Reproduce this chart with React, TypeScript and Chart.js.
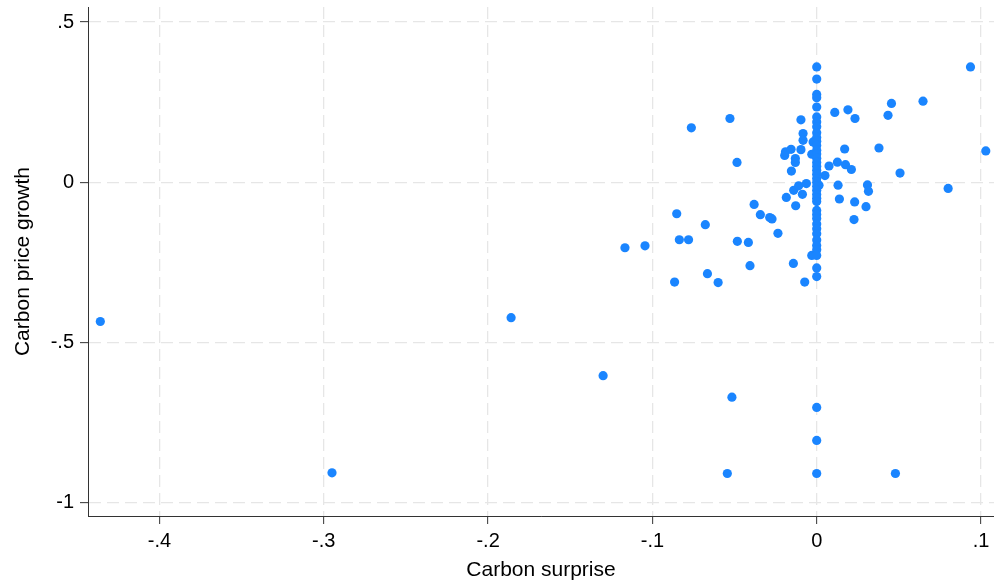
import React, { useEffect, useRef } from "react";
import { Chart, registerables } from "chart.js";

Chart.register(...registerables);

// Off-axis observations (carbon surprise, carbon price growth)
const surpriseX: number[] = [
  -0.436, -0.295, -0.186, -0.13, -0.1167, -0.1045, -0.0852, -0.0865, -0.0836, -0.078,
  -0.0763, -0.0678, -0.0665, -0.06, -0.0544, -0.0528, -0.0516, -0.0485, -0.0483, -0.0416,
  -0.0406, -0.0381, -0.0343, -0.0286, -0.0272, -0.0236, -0.0195, -0.019, -0.0185, -0.0156,
  -0.0154, -0.0142, -0.014, -0.013, -0.013, -0.0128, -0.011, -0.0096, -0.0096, -0.0087,
  -0.0083, -0.0083, -0.0073, -0.0063, -0.003, -0.003, -0.0022, 0.0014, 0.005, 0.0075,
  0.011, 0.0126, 0.013, 0.0138, 0.017, 0.0175, 0.019, 0.0211, 0.0227, 0.0231,
  0.0233, 0.03, 0.0309, 0.0315, 0.0379, 0.0434, 0.0455, 0.0479, 0.0507, 0.0647,
  0.08, 0.0936, 0.1029,
];
const growthY: number[] = [
  -0.434, -0.906, -0.422, -0.603, -0.204, -0.198, -0.098, -0.311, -0.179, -0.179,
  0.17, -0.132, -0.285, -0.3125, -0.908, 0.199, -0.67, 0.062, -0.184, -0.1875,
  -0.26, -0.069, -0.101, -0.11, -0.114, -0.159, 0.084, 0.095, -0.047, 0.103,
  0.035, -0.253, -0.025, 0.074, 0.062, -0.073, -0.011, 0.195, 0.102, -0.0375,
  0.152, 0.131, -0.311, -0.004, 0.0875, -0.228, 0.126, -0.009, 0.021, 0.051,
  0.218, 0.063, -0.009, -0.052, 0.104, 0.055, 0.226, 0.04, -0.116, -0.061,
  0.199, -0.076, -0.008, -0.028, 0.107, 0.209, 0.246, -0.908, 0.029, 0.253,
  -0.019, 0.36, 0.098,
];
// Observations with zero carbon surprise
const growthAtZeroSurprise: number[] = [
  0.36, 0.322, 0.274, 0.264, 0.235, 0.204, 0.188, 0.173, 0.155, 0.14,
  0.128, 0.115, 0.1, 0.088, 0.075, 0.062, 0.05, 0.038, 0.025, 0.012,
  0.0, -0.012, -0.025, -0.038, -0.05, -0.06, -0.0875, -0.1, -0.113, -0.13,
  -0.145, -0.16, -0.18, -0.197, -0.21, -0.228, -0.267, -0.294, -0.702, -0.805,
  -0.908,
];

const xTicks: number[] = [-0.4, -0.3, -0.2, -0.1, 0, 0.1];
const yTicks: number[] = [-1, -0.5, 0, 0.5];
const xRange: number[] = [-0.4435, 0.1079];
const yRange: number[] = [-1.0406, 0.5468];

const xTitle = "Carbon surprise";
const yTitle = "Carbon price growth";

const fmt = (v: number) => (v === 0 ? "0" : String(v).replace("0.", "."));

export default function App() {
  const ref = useRef<HTMLCanvasElement>(null);

  useEffect(() => {
    document.body.style.margin = "0";
    const points = [
      ...surpriseX.map((x, i) => ({ x, y: growthY[i] })),
      ...growthAtZeroSurprise.map((y) => ({ x: 0, y })),
    ];
    const family = "'Liberation Sans', Arial, Helvetica, sans-serif";
    const tickFont = { family, size: 20 };
    const titleFont = { family, size: 21 };
    const gridCommon = {
      color: "#e6e6e6",
      lineWidth: 1.3,
      tickColor: "#333",
      tickLength: 8,
      tickWidth: 1,
      tickBorderDash: [],
      drawTicks: true,
    };
    const chart = new Chart(ref.current!, {
      type: "scatter",
      data: {
        datasets: [
          {
            data: points,
            backgroundColor: "rgb(26,133,255)",
            borderWidth: 0,
            pointRadius: 4.6,
            pointHoverRadius: 4.6,
          },
        ],
      },
      options: {
        animation: false,
        responsive: true,
        maintainAspectRatio: false,
        layout: { autoPadding: false, padding: { top: 7, right: 0, left: 0, bottom: 0 } },
        plugins: { legend: { display: false }, tooltip: { enabled: false } },
        scales: {
          x: {
            type: "linear",
            min: xRange[0],
            max: xRange[1],
            afterBuildTicks: (s: any) => {
              s.ticks = xTicks.map((v) => ({ value: v }));
            },
            afterFit: (s: any) => {
              s.height = 67;
              s.paddingLeft = 0;
              s.paddingRight = 0;
            },
            grid: gridCommon,
            border: { display: true, color: "#333", width: 1, dash: [12, 6] },
            ticks: {
              font: tickFont,
              color: "#000",
              padding: 5,
              maxRotation: 0,
              autoSkip: false,
              callback: (v: any) => fmt(Number(v)),
            },
            title: {
              display: true,
              text: xTitle,
              font: titleFont,
              color: "#000",
              padding: { top: 0, bottom: 0 },
            },
          },
          y: {
            type: "linear",
            min: yRange[0],
            max: yRange[1],
            afterBuildTicks: (s: any) => {
              s.ticks = yTicks.map((v) => ({ value: v }));
            },
            afterFit: (s: any) => {
              s.width = 88;
              s.paddingTop = 0;
              s.paddingBottom = 0;
            },
            grid: gridCommon,
            border: { display: true, color: "#333", width: 1, dash: [12, 6] },
            ticks: {
              font: tickFont,
              color: "#000",
              padding: 6,
              autoSkip: false,
              callback: (v: any) => fmt(Number(v)),
            },
            title: {
              display: true,
              text: yTitle,
              font: titleFont,
              color: "#000",
              padding: { top: 11, bottom: 0 },
            },
          },
        },
      },
    } as any);
    return () => chart.destroy();
  }, []);

  return (
    <div style={{ position: "relative", width: 994, height: 583 }}>
      <canvas ref={ref} />
    </div>
  );
}
